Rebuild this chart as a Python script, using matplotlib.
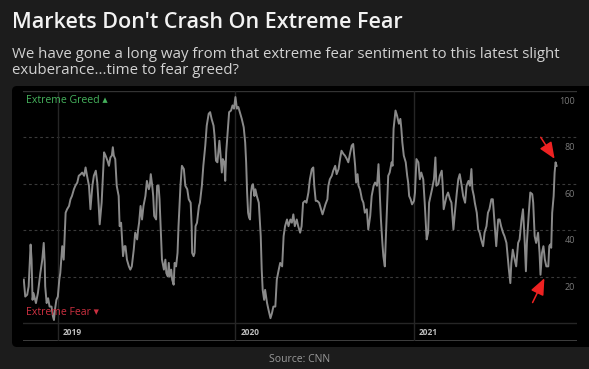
import numpy as np
import pandas as pd
import matplotlib
matplotlib.use('Agg')
import matplotlib.pyplot as plt
from matplotlib.patches import FancyBboxPatch

# CNN Fear & Greed index (days counted from 2019-01-01)
base_date = '2019-01-01'
days = [-70, -67, -63, -60, -56, -54, -52, -50, -45, -41, -36, -32, -29, -27, -26, -23, -20, -17, -13, -10,
        -8, -6, -3, 0, 3, 5, 9, 12, 16, 19, 23, 26, 29, 33, 36, 40, 43, 47, 50, 54,
        57, 60, 64, 67, 71, 74, 78, 81, 84, 86, 90, 93, 95, 98, 102, 105, 108,
        111, 113, 115, 118, 121, 125, 127, 130, 132, 134, 137, 139, 142, 146, 149, 152, 156, 159, 163, 165,
        167, 170, 173, 176, 180, 183, 187, 189, 191, 194, 196, 198, 202, 204, 207, 209, 212, 214, 218, 221,
        223, 226, 228, 230, 233, 235, 238, 240, 243, 246, 248, 252, 255, 259, 262, 266, 269, 273, 275, 276,
        279, 281, 283, 286, 290,
        292, 296, 299, 303, 306, 310, 313, 316, 320, 322, 325, 328, 332, 334, 337, 339, 342, 344, 346, 349,
        352, 356, 359, 362, 365, 368, 371, 375, 378, 382, 385, 387, 389, 391, 393, 395, 397, 399, 401, 404,
        406, 409, 413, 415, 417, 419, 421, 424, 426, 430, 433, 437, 440, 443, 447, 450, 454, 457, 461, 464,
        467, 471, 474, 478, 481,
        484, 487, 491, 494, 498, 501, 504, 508, 511, 515, 518, 522, 525, 527, 530, 533, 537, 540, 544, 547,
        550, 554, 556, 559, 563, 566, 570, 573, 577, 580, 583, 587, 590, 594, 597, 601, 604, 607, 611, 613,
        616, 618, 621, 625, 628, 631, 635, 638, 642, 645, 649, 652, 656, 659, 661, 664, 667, 669, 672,
        674, 677, 679, 682, 686, 688, 690, 694, 697, 701, 704, 706, 708, 711, 715, 718, 720, 722, 725, 728,
        732, 734, 737, 741, 744, 747, 751, 754, 758, 761, 763, 766, 769, 773, 776, 778, 782, 785, 789, 791,
        793, 796, 799, 802, 806, 809, 813, 816, 820, 823, 826, 830, 833, 837, 840, 844, 847, 850, 852, 855,
        857, 861, 864,
        867, 870, 874, 877, 881, 884, 887, 891, 894, 898, 901, 905, 908, 911, 915, 918, 922, 925, 927, 930,
        932, 935, 939, 942, 946, 949, 953, 956, 959, 962, 964, 968, 971, 975, 977, 980, 983, 987, 990, 992,
        995, 998, 1001, 1004, 1008, 1010, 1012, 1014, 1016, 1019, 1021, 1023, 1025]
index = [18.8, 11.5, 12.3, 15.9, 33.9, 27.4, 10.1, 13.0, 8.7, 13.0, 21.6, 27.4, 34.6, 26.0, 15.9, 8.7, 10.8, 7.2, 7.2, 2.9,
         1.4, 5.8, 10.1, 11.5, 18.8, 21.6, 33.2, 27.4, 47.6, 49.1, 50.5, 53.4, 54.8, 57.7, 59.2, 60.6, 63.5, 64.2, 64.9, 63.5,
         67.1, 63.5, 59.2, 49.1, 59.2, 63.5, 65.7, 60.6, 50.5, 42.6, 51.9, 64.9, 73.6, 72.2, 70.0, 67.8, 71.4,
         72.2, 75.8, 72.2, 70.7, 59.2, 54.8, 41.8, 43.3, 36.1, 28.9, 33.2, 33.2, 27.4, 24.5, 23.1, 24.5, 31.7, 39.0, 36.1, 40.4,
         43.3, 50.5, 44.7, 50.5, 54.8, 61.3, 57.7, 59.2, 64.2, 59.2, 54.8, 46.2, 44.7, 59.2, 59.2, 53.4, 37.5, 27.4, 23.1, 27.4,
         21.6, 20.2, 26.0, 20.2, 23.1, 18.8, 16.6, 26.0, 24.5, 30.3, 41.8, 59.2, 67.8, 66.4, 59.2, 57.7, 53.4, 51.9, 41.8, 30.3,
         28.9, 30.3, 41.8, 43.3, 50.5,
         51.9, 59.2, 67.8, 76.5, 85.1, 90.2, 90.9, 88.0, 85.1, 80.8, 70.0, 69.3, 78.6, 73.6, 64.9, 70.7, 69.3, 61.3, 73.6, 82.3,
         90.9, 91.6, 93.8, 92.4, 97.4, 92.4, 93.1, 90.2, 88.0, 84.4, 77.9, 69.3, 56.3, 47.6, 45.5, 44.7, 56.3, 59.2, 59.9, 54.8,
         57.7, 54.8, 51.9, 44.7, 37.5, 23.1, 14.4, 10.1, 14.4, 8.7, 5.8, 2.2, 4.3, 7.2, 7.2, 18.8, 23.1, 26.0, 24.5, 37.5,
         41.8, 44.7, 41.8, 44.7, 43.3,
         46.9, 41.8, 44.7, 41.8, 39.0, 41.8, 51.9, 52.7, 51.9, 56.3, 62.0, 66.4, 67.1, 59.2, 52.7, 52.7, 51.9, 49.8, 46.9, 49.1,
         51.2, 53.4, 59.2, 62.0, 63.5, 65.7, 67.8, 64.2, 66.4, 70.7, 74.3, 72.9, 72.2, 70.7, 69.3, 73.6, 76.5, 77.2, 67.8, 60.6,
         64.2, 59.2, 57.7, 53.4, 51.9, 47.6, 49.1, 40.4, 46.2, 54.8, 59.2, 60.6, 59.2, 68.5, 59.2, 44.7, 34.6, 28.9, 24.5,
         36.1, 51.9, 63.5, 64.9, 69.3, 67.8, 83.7, 91.6, 89.5, 85.9, 88.0, 83.7, 77.9, 72.2, 69.3, 63.5, 60.6, 54.8, 53.4, 51.2,
         52.7, 56.3, 70.7, 69.3, 62.0, 64.9, 62.0, 51.9, 36.1, 39.0, 51.9, 54.8, 57.7, 62.0, 71.4, 59.2, 59.9, 63.5, 65.7, 59.2,
         49.1, 51.9, 54.8, 56.3, 53.4, 51.9, 40.4, 47.6, 56.3, 62.0, 64.2, 59.2, 54.8, 51.9, 59.2, 61.3, 59.2, 66.4, 57.7, 54.8,
         51.9, 47.6, 40.4,
         39.0, 36.1, 33.2, 39.0, 41.8, 47.6, 49.1, 53.4, 53.4, 41.8, 33.2, 44.7, 44.7, 41.8, 39.0, 37.5, 34.6, 27.4, 23.1, 17.3,
         26.0, 31.7, 27.4, 24.5, 34.6, 36.1, 44.7, 49.1, 37.5, 22.4, 34.6, 47.6, 56.3, 55.6, 51.9, 37.5, 34.6, 39.0, 30.3, 20.9,
         30.3, 33.2, 27.4, 24.5, 24.5, 33.2, 33.9, 32.5, 47.6, 54.8, 64.9, 69.3, 67.8]

year_ticks = ['2019-01-01', '2020-01-01', '2021-01-01']
year_labels = ['2019', '2020', '2021']
grid_levels = [20, 40, 60, 80]
level_labels = ['20', '40', '60', '80', '100']
label_levels = [20, 40, 60, 80, 100]

dates = pd.to_datetime(base_date) + pd.to_timedelta(days, unit='D')
values = np.array(index)

W, H = 589, 369
bg = '#1c1c1c'
fig = plt.figure(figsize=(W / 100, H / 100), dpi=100, facecolor=bg)

def fx(px):
    return px / W

def fy(py):
    return 1 - py / H

# title + subtitle
fig.text(fx(12), fy(28.3), "Markets Don't Crash On Extreme Fear", color='#f2f2f2',
         fontsize=15.5, fontweight='semibold', family='Open Sans', va='baseline')
fig.text(fx(12), fy(57.5), 'We have gone a long way from that extreme fear sentiment to this latest slight',
         color='#d2d2d2', fontsize=10.85, family='Open Sans', va='baseline')
fig.text(fx(12), fy(74.3), 'exuberance...time to fear greed?',
         color='#d2d2d2', fontsize=10.85, family='Open Sans', va='baseline')
fig.text(fx(300), fy(359), 'Source: CNN', color='#9a9a9a', fontsize=7.5,
         family='Open Sans', ha='center', va='center')

# black chart panel, kept behind the axes
panel = FancyBboxPatch((0.12, (H - 347) / 100), 6.2, (347 - 86) / 100,
                       boxstyle='round,pad=0,rounding_size=0.05',
                       transform=fig.dpi_scale_trans, facecolor='black',
                       edgecolor='none', zorder=-10)
fig.patches.append(panel)

ax_l, ax_r, ax_t, ax_b = 23.3, 577, 91, 341
ax = fig.add_axes([fx(ax_l), fy(ax_b), (ax_r - ax_l) / W, (ax_b - ax_t) / H])
ax.set_zorder(5)
ax.set_facecolor('none')
ax.patch.set_alpha(0)
y_bottom = -(ax_b - 323.3) / 2.323
ax.set_ylim(y_bottom, 100)
ax.set_xlim(pd.Timestamp('2018-10-22'), pd.Timestamp('2021-12-03'))
for s in ax.spines.values():
    s.set_visible(False)
ax.set_xticks([])
ax.set_yticks([])

# grid
for lv in grid_levels:
    ax.axhline(lv, color='#3a3a3a', lw=0.8, ls=(0, (2.5, 2.5)), zorder=1)
ax.axhline(100, color='#333333', lw=1.0, zorder=1)
ax.axhline(0, color='#262626', lw=1.0, zorder=1)
ax.axhline(y_bottom, color='#444444', lw=2.0, zorder=1)
for t in year_ticks:
    ax.axvline(pd.Timestamp(t), color='#262626', lw=1.0, zorder=1)

ax.plot(dates, values, color='#8a8a8a', lw=1.4, zorder=3, solid_joinstyle='round')

# right axis labels, sitting just below each gridline
for lv, lab in zip(label_levels, level_labels):
    ax.annotate(lab, xy=(1, lv), xycoords=('axes fraction', 'data'),
                xytext=(-1.5, -7.5), textcoords='offset points',
                ha='right', va='center', color='#7a7a7a', fontsize=6.5, family='Open Sans')

# year labels
for t, lab in zip(year_ticks, year_labels):
    ax.annotate(lab, xy=(pd.Timestamp(t), 0.033), xycoords=('data', 'axes fraction'),
                xytext=(3.5, 0), textcoords='offset points',
                ha='left', va='center', color='#bdbdbd', fontsize=6, fontweight='bold',
                family='Open Sans')

ax.text(0.005, 0.961, 'Extreme Greed \u25B4', transform=ax.transAxes, color='#45b25c',
        fontsize=7.6, family=['Open Sans', 'DejaVu Sans'], va='center', ha='left', zorder=4)
ax.text(0.005, 0.113, 'Extreme Fear \u25BE', transform=ax.transAxes, color='#cc3040',
        fontsize=7.6, family=['Open Sans', 'DejaVu Sans'], va='center', ha='left', zorder=4)

# red arrows at the recent low and the latest high
i_peak = int(np.argmax(values[-10:])) + len(values) - 10
i_low = int(np.argmin(values[-25:])) + len(values) - 25
arrow = dict(arrowstyle='-|>,head_length=1.0,head_width=0.42', color='#ee2222', lw=1.1,
             shrinkA=0, shrinkB=0)
ax.annotate('', xy=(dates[i_peak] - pd.Timedelta(days=2), values[i_peak] + 1.5),
            xytext=(-10, 15.5), textcoords='offset points', arrowprops=arrow, zorder=5)
ax.annotate('', xy=(dates[i_low] + pd.Timedelta(days=8), values[i_low] - 1.5),
            xytext=(-8.5, -17.5), textcoords='offset points', arrowprops=arrow, zorder=5)

fig.savefig('out.png', dpi=100, facecolor=bg)
